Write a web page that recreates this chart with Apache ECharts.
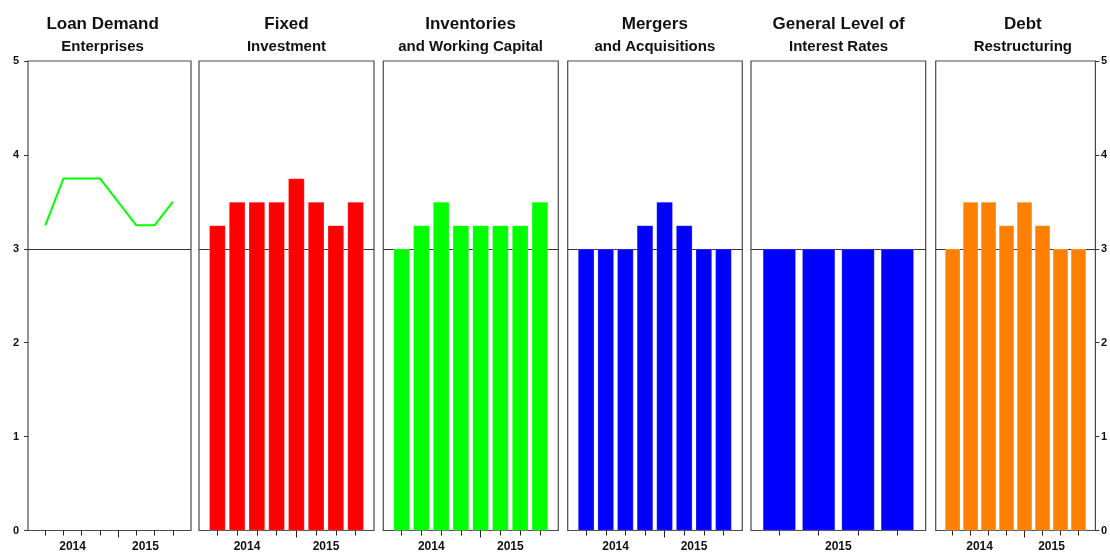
<!DOCTYPE html>
<html><head><meta charset="utf-8">
<script src="https://cdn.jsdelivr.net/npm/echarts@6/dist/echarts.min.js"></script>
<style>html,body{margin:0;padding:0;background:#fff}#c{width:1110px;height:553px}</style>
</head><body><div id="c"></div>
<script>
// ---- data ----
const quarters8 = ['2014 Q1','2014 Q2','2014 Q3','2014 Q4','2015 Q1','2015 Q2','2015 Q3','2015 Q4'];
const quarters2015 = ['2015 Q1','2015 Q2','2015 Q3','2015 Q4'];
const loanDemand = [3.25, 3.75, 3.75, 3.75, 3.5, 3.25, 3.25, 3.5];
const fixedInvestment = [3.25, 3.5, 3.5, 3.5, 3.75, 3.5, 3.25, 3.5];
const inventories = [3, 3.25, 3.5, 3.25, 3.25, 3.25, 3.25, 3.5];
const mergers = [3, 3, 3, 3.25, 3.5, 3.25, 3, 3];
const interestRates = [3, 3, 3, 3];
const debtRestructuring = [3, 3.5, 3.5, 3.25, 3.5, 3.25, 3, 3];
const titles = ['Loan Demand', 'Fixed', 'Inventories', 'Mergers', 'General Level of', 'Debt'];
const subtitles = ['Enterprises', 'Investment', 'and Working Capital', 'and Acquisitions', 'Interest Rates', 'Restructuring'];
const yTicks = [0, 1, 2, 3, 4, 5];
const neutral = 3;

// ---- layout / style ----
const FONT = '"Liberation Sans", Arial, Helvetica, sans-serif';
const panels = [
  {left: 28,    width: 163,   titleX: 102.6, xMin: 0.05, xMax: 9.0,  type: 'line', color: '#00ff00', q: quarters8, v: loanDemand},
  {left: 199,   width: 175,   titleX: 286.5, xMin: 0.07, xMax: 8.93, type: 'bar', bw: 16.3, color: '#ff0000', q: quarters8, v: fixedInvestment},
  {left: 383.3, width: 175,   titleX: 470.6, xMin: 0.07, xMax: 8.93, type: 'bar', bw: 16.3, color: '#00ff00', q: quarters8, v: inventories},
  {left: 567.7, width: 174.6, titleX: 654.8, xMin: 0.06, xMax: 8.96, type: 'bar', bw: 16.3, color: '#0000ff', q: quarters8, v: mergers},
  {left: 751,   width: 174.7, titleX: 838.6, xMin: 0.28, xMax: 4.72, type: 'bar', bw: 33,   color: '#0000ff', q: quarters2015, v: interestRates},
  {left: 935.7, width: 161,   titleX: 1022.8, xMin: 0.06, xMax: 8.94, type: 'bar', bw: 15.3, color: '#ff8000', q: quarters8, v: debtRestructuring}
];
const TOP = 61, HEIGHT = 471;

const grid = [], xAxis = [], yAxis = [], series = [], title = [];
panels.forEach((p, i) => {
  grid.push({left: p.left, top: TOP, width: p.width, height: HEIGHT, show: true,
    borderColor: '#4a4a4a', borderWidth: 1.2, backgroundColor: 'transparent', containLabel: false});
  const pos = p.q.map((_, k) => k + 1);
  const years = [...new Set(p.q.map(s => s.slice(0, 4)))];
  const yearPos = {};
  years.forEach(y => {
    const ks = p.q.map((s, k) => s.startsWith(y) ? k + 1 : null).filter(k => k !== null);
    yearPos[y] = ks.reduce((a, b) => a + b, 0) / ks.length;
  });
  const labelVals = years.map(y => yearPos[y]);
  const longTicks = p.q.map((s, k) => (k > 0 && s.endsWith('Q1')) ? k + 1 : null).filter(k => k !== null);
  xAxis.push({type: 'value', gridIndex: i, position: 'bottom', min: p.xMin, max: p.xMax,
    axisLine: {show: false}, splitLine: {show: false},
    axisTick: {show: true, customValues: pos, length: 5, lineStyle: {color: '#222', width: 1}},
    axisLabel: {show: true, customValues: labelVals, margin: 10.5, fontFamily: FONT, fontSize: 12, fontWeight: 'bold', color: '#111',
      formatter: v => { for (const y of years) { if (Math.abs(yearPos[y] - v) < 1e-6) return y; } return ''; }}
  });
  xAxis.push({type: 'value', gridIndex: i, position: 'bottom', offset: 0, min: p.xMin, max: p.xMax,
    axisLine: {show: false}, splitLine: {show: false},
    axisTick: {show: longTicks.length > 0, customValues: longTicks.length ? longTicks : [p.xMin], length: 7, lineStyle: {color: '#222', width: 1}},
    axisLabel: {show: false}
  });
  const isLeft = i === 0, isRight = i === panels.length - 1;
  yAxis.push({type: 'value', gridIndex: i, min: yTicks[0], max: yTicks[yTicks.length - 1], interval: 1,
    position: isRight ? 'right' : 'left',
    axisLine: {show: false}, splitLine: {show: false},
    axisTick: {show: isLeft || isRight, length: 4, lineStyle: {color: '#333'}},
    axisLabel: {show: isLeft || isRight, margin: isLeft ? 9 : 5.5, fontFamily: FONT, fontSize: 11, fontWeight: 'bold', color: '#111'}
  });
  const data = p.v.map((val, k) => [pos[k], val]);
  const markLine = {silent: true, symbol: 'none', z: 1, label: {show: false},
    lineStyle: {color: '#333', width: 1, type: 'solid'}, data: [{yAxis: neutral}], animation: false};
  if (p.type === 'line') {
    series.push({type: 'line', xAxisIndex: 2 * i, yAxisIndex: i, data, showSymbol: false, symbol: 'none',
      lineStyle: {color: p.color, width: 2}, itemStyle: {color: p.color}, markLine, animation: false, z: 3});
  } else {
    series.push({type: 'bar', xAxisIndex: 2 * i, yAxisIndex: i, data, barWidth: p.bw,
      itemStyle: {color: p.color, borderColor: 'rgba(255,255,255,0.35)', borderWidth: 0.6}, markLine, animation: false, z: 2});
  }
  title.push({text: titles[i], subtext: subtitles[i], left: p.titleX, top: 15, padding: 0,
    textAlign: 'center', itemGap: 6,
    textStyle: {fontFamily: FONT, fontSize: 17, fontWeight: 'bold', color: '#111', lineHeight: 18},
    subtextStyle: {fontFamily: FONT, fontSize: 15, fontWeight: 'bold', color: '#111', lineHeight: 16}});
});

const chart = echarts.init(document.getElementById('c'), null, {renderer: 'canvas'});
chart.setOption({backgroundColor: '#fff', animation: false, markLine: {z: 1}, title, grid, xAxis, yAxis, series});
</script></body></html>
